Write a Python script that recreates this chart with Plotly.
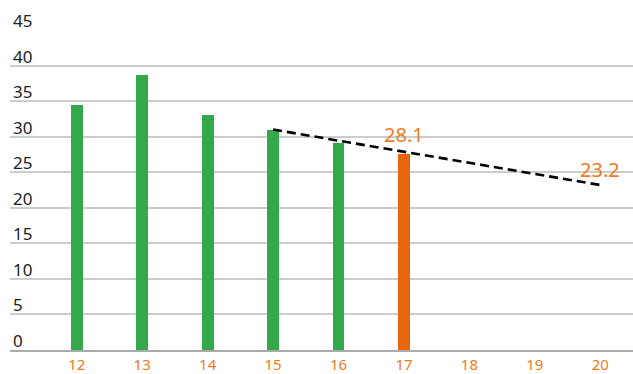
import plotly.graph_objects as go

# data
years = [12, 13, 14, 15, 16, 17]
values = [34.5, 38.7, 33.0, 30.9, 29.1, 27.6]
bar_colors = ['#33a949'] * 5 + ['#e8650e']

tick_years = [12, 13, 14, 15, 16, 17, 18, 19, 20]
y_ticks = [0, 5, 10, 15, 20, 25, 30, 35, 40, 45]

trend_x = [15, 20]
trend_y = [31.0, 23.2]

label_x = [17, 20]
label_y = [28.1, 23.2]

fig = go.Figure()

fig.add_trace(go.Bar(
    x=years, y=values, marker_color=bar_colors,
    width=0.18, marker_line_width=0, showlegend=False
))

fig.add_trace(go.Scatter(
    x=trend_x, y=trend_y, mode='lines',
    line=dict(color='black', width=2.6, dash='9px,5px'),
    showlegend=False
))

for lx, ly in zip(label_x, label_y):
    fig.add_annotation(
        x=lx, y=ly, text=f'{ly:.1f}', showarrow=False,
        yanchor='bottom', yshift=0,
        font=dict(size=20, color='#f07a20', family='Noto Sans')
    )

fig.update_layout(
    width=633, height=374,
    margin=dict(l=10, r=0, t=30, b=21),
    plot_bgcolor='white', paper_bgcolor='white',
    font=dict(family='Noto Sans'),
    bargap=0,
)

fig.update_xaxes(
    range=[10.98, 20.5],
    tickvals=tick_years, ticktext=[str(t) for t in tick_years],
    tickfont=dict(size=15, color='#f07a20'),
    showgrid=False, zeroline=False,
    showline=True, linecolor='#aaaaaa', linewidth=1.5,
    ticks='',
)

fig.update_yaxes(
    range=[0, 45],
    tickvals=y_ticks,
    tickfont=dict(size=17, color='#222222'),
    ticklabelposition='inside top',
    ticklabeloverflow='allow',
    ticklabelshift=3,
    showgrid=True, gridcolor='#cccccc', gridwidth=1.5,
    zeroline=False, ticks='',
)

# page body has a default margin; drop it so the figure fills the window
fig.write_html('out.html', config={'displayModeBar': False},
               post_script="document.body.style.margin='0';")
